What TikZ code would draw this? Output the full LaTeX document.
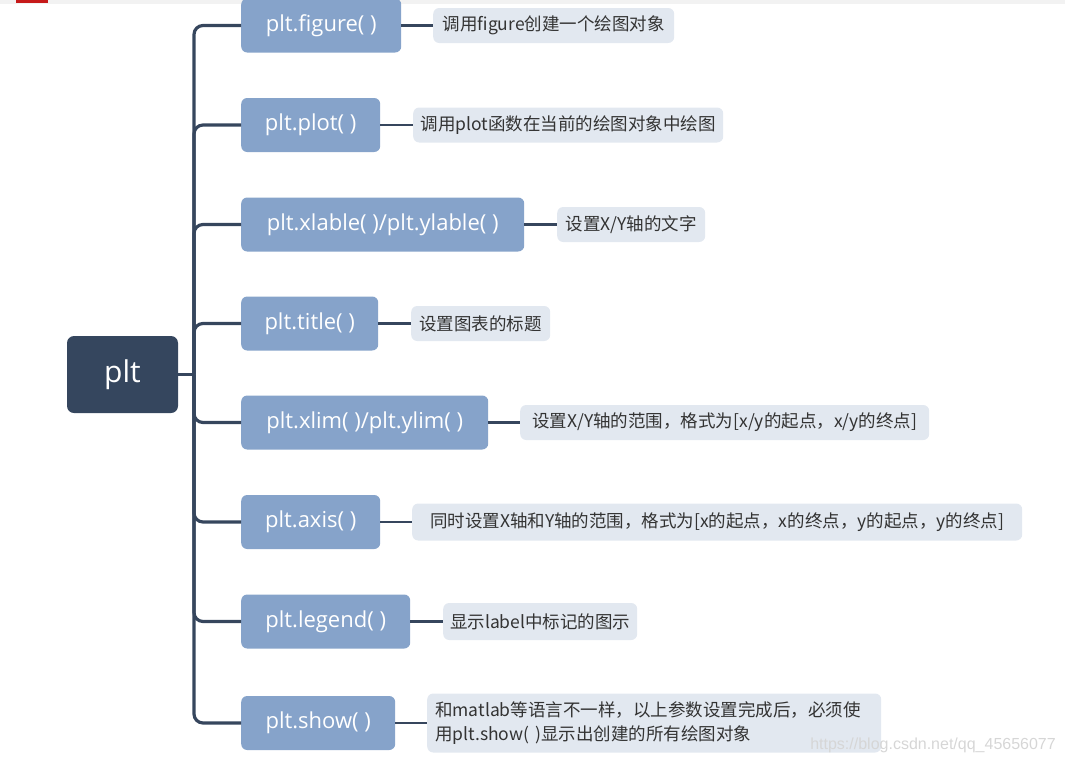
\documentclass[tikz,border=0pt]{standalone}
\usepackage{fontspec}
\setmainfont{Open Sans}
\newfontfamily\cjk{Noto Sans CJK SC}
\newfontfamily\wmfont{Liberation Sans}
\definecolor{rootc}{HTML}{35465E}
\definecolor{branchc}{HTML}{86A3CA}
\definecolor{descc}{HTML}{E2E8F0}
\definecolor{linec}{HTML}{36465D}
\definecolor{textc}{HTML}{333333}
\tikzset{
  rootbox/.style={fill=rootc, rounded corners=7pt, minimum width=111pt, minimum height=77pt, text=white, font=\fontsize{30}{36}\selectfont, inner sep=0pt},
  branchbox/.style={fill=branchc, rounded corners=6pt, minimum height=54pt, text=white, font=\fontsize{22}{26}\selectfont, inner sep=0pt, anchor=west},
  descbox/.style={fill=descc, rounded corners=6pt, minimum height=35pt, text=textc, font=\cjk\fontsize{17.5}{24}\selectfont, inner sep=0pt, anchor=west},
  trunk/.style={draw=linec, line width=3.2pt, rounded corners=9pt},
  link/.style={draw=linec, line width=2.4pt},
}
\begin{document}
\begin{tikzpicture}[x=1pt,y=-1pt]
\useasboundingbox (0,0) rectangle (1065,764);
\fill[black!5] (0,0) rectangle (1065,4);
\fill[red!75!black!90] (16,0) rectangle (48,3);
% root
\node[rootbox] (root) at (122.5,374.5) {plt};
% branches
\node[branchbox, minimum width=160pt] (b1) at (241,25.5) {plt.figure( )};
\node[branchbox, minimum width=139pt] (b2) at (241,125) {plt.plot( )};
\node[branchbox, minimum width=283pt] (b3) at (241,224.5) {plt.xlable( )/plt.ylable( )};
\node[branchbox, minimum width=137pt] (b4) at (241,323.5) {plt.title( )};
\node[branchbox, minimum width=247pt] (b5) at (241,422.5) {plt.xlim( )/plt.ylim( )};
\node[branchbox, minimum width=139pt] (b6) at (241,522) {plt.axis( )};
\node[branchbox, minimum width=169pt] (b7) at (241,621.5) {plt.legend( )};
\node[branchbox, minimum width=154pt] (b8) at (241,723) {plt.show( )};
% descriptions
\node[descbox, minimum width=241pt] (d1) at (433,25.5) {调用figure创建一个绘图对象};
\node[descbox, minimum width=310pt] (d2) at (413,125) {调用plot函数在当前的绘图对象中绘图};
\node[descbox, minimum width=148pt] (d3) at (557,224.5) {设置X/Y轴的文字};
\node[descbox, minimum width=139pt] (d4) at (411,323.5) {设置图表的标题};
\node[descbox, minimum width=409pt] (d5) at (520,422.5) {设置X/Y轴的范围，格式为[x/y的起点，x/y的终点]};
\node[descbox, minimum width=610pt, minimum height=37pt] (d6) at (412,522) {同时设置X轴和Y轴的范围，格式为[x的起点，x的终点，y的起点，y的终点]};
\node[descbox, minimum width=194pt, minimum height=37pt] (d7) at (443,621.5) {显示label中标记的图示};
\node[descbox, minimum width=454pt, minimum height=59pt, text width=438pt, inner xsep=8pt, align=left] (d8) at (427,723) {和matlab等语言不一样，以上参数设置完成后，必须使\\用plt.show( )显示出创建的所有绘图对象};
% connectors
\coordinate (j) at (194,374.5);
\draw[link, line width=3.2pt] (root.east) -- (j);
\foreach \b in {b1,b2,b3,b4,b5,b6,b7,b8}{
  \draw[trunk] (j) |- (\b.west);
}
\foreach \i in {1,...,8}{
  \draw[link] (b\i.east) -- (d\i.west);
}
% watermark
\node[anchor=east, text=black!16, font=\wmfont\fontsize{16}{19}\selectfont, inner sep=0pt] (wm) at (1056,745) {https://blog.csdn.net/qq\_45656077};
\end{tikzpicture}
\end{document}
